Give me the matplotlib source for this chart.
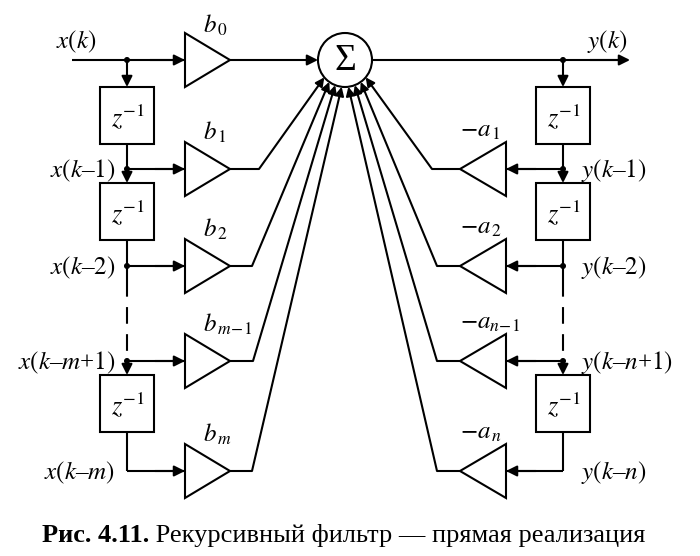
import math
import matplotlib
matplotlib.use("Agg")
import matplotlib.pyplot as plt
from matplotlib.patches import Polygon, Rectangle, Circle

plt.rcParams['font.family'] = ['Liberation Serif', 'DejaVu Serif']
plt.rcParams['mathtext.fontset'] = 'stix'

# labels of the diagram
in_labels = [r'$x(k$–$1)$', r'$x(k$–$2)$', r'$x(k$–$m$+$1)$', r'$x(k$–$m)$']
out_labels = [r'$y(k$–$1)$', r'$y(k$–$2)$', r'$y(k$–$n$+$1)$', r'$y(k$–$n)$']
b_labels = [r'$b_{\,1}$', r'$b_{\,2}$', r'$b_{\,m\!-\!1}$', r'$b_{\,m}$']
a_labels = [r'$-a_{\,1}$', r'$-a_{\,2}$', r'$-a_{n\!-\!1}$', r'$-a_{\,n}$']
caption_bold = 'Рис. 4.11.'
caption_text = ' Рекурсивный фильтр — прямая реализация'

# layout (pixels, y downwards)
Y0 = 60
rows = [169, 266, 361, 471]
box_tops = [87, 183, 375]
XL, XR = 127, 563
CX, CY, R = 345, 60, 27
bend_left = [259, 252, 253, 252]
bend_right = [432, 437, 437, 437]
LW = 1.5
FS = 18

fig = plt.figure(figsize=(7, 5.56), dpi=100)
ax = fig.add_axes([0, 0, 1, 1])
ax.set_xlim(0, 700)
ax.set_ylim(556, 0)
ax.axis('off')


def line(xs, ys, **kw):
    ax.plot(xs, ys, color='k', lw=LW, solid_capstyle='butt', **kw)


def arrow(p0, p1, ms=16):
    ax.annotate('', xy=p1, xytext=p0,
                arrowprops=dict(arrowstyle='-|>', color='k', lw=LW,
                                shrinkA=0, shrinkB=0, mutation_scale=ms))


def dot(x, y):
    ax.add_patch(Circle((x, y), 2.3, color='k', zorder=5))


def tri_right(x, y):
    ax.add_patch(Polygon([(x, y - 27), (x, y + 27), (x + 45, y)], closed=True,
                         fill=False, lw=LW, ec='k'))


def tri_left(x, y):
    ax.add_patch(Polygon([(x, y - 27), (x, y + 27), (x - 46, y)], closed=True,
                         fill=False, lw=LW, ec='k'))


def delay(xc, top):
    ax.add_patch(Rectangle((xc - 27, top), 54, 57, fill=False, lw=LW, ec='k'))
    ax.text(xc + 1, top + 30, r'$z^{-1}$', fontsize=19, ha='center', va='center')


# summation node
ax.add_patch(Circle((CX, CY), R, fill=False, lw=LW, ec='k', zorder=4))
ax.text(CX, CY + 1, 'Σ', fontsize=27, ha='center', va='center')

# input line, b0
line([72, 185], [Y0, Y0])
arrow((150, Y0), (185, Y0))
tri_right(185, Y0)
ax.text(203, Y0 - 27, r'$b_{\,0}$', fontsize=FS, va='baseline')
arrow((230, Y0), (CX - R, Y0))
ax.text(76, Y0 - 12, r'$x(k)$', fontsize=FS, ha='center', va='baseline')

# output line
line([CX + R, 628], [Y0, Y0])
arrow((590, Y0), (630, Y0))
ax.text(607, Y0 - 12, r'$y(k)$', fontsize=FS, ha='center', va='baseline')

# delay chains
for xc, tri, x_in, sign in [(XL, tri_right, 185, 1), (XR, tri_left, 506, -1)]:
    dot(xc, Y0)
    arrow((xc, Y0), (xc, box_tops[0]))
    delay(xc, box_tops[0])
    line([xc, xc], [box_tops[0] + 57, rows[0]])
    arrow((xc, rows[0]), (xc, box_tops[1]))
    dot(xc, rows[0])
    delay(xc, box_tops[1])
    line([xc, xc], [box_tops[1] + 57, 280])
    ax.plot([xc, xc], [280, rows[2]], color='k', lw=LW, dashes=(8, 5))
    dot(xc, rows[1])
    dot(xc, rows[2])
    arrow((xc, rows[2]), (xc, box_tops[2]))
    delay(xc, box_tops[2])
    line([xc, xc], [box_tops[2] + 57, rows[3]])
    for y in rows:
        line([xc, x_in], [y, y])
        arrow((x_in - sign * 30, y), (x_in, y))
        tri(x_in, y)

# left taps to the adder
for i, y in enumerate(rows):
    ang = 220 + i * 100 / 7.0
    ax.text(115, y + 8, in_labels[i], fontsize=FS, ha='right', va='baseline')
    ax.text(203, y - 29, b_labels[i], fontsize=FS, va='baseline')
    line([230, bend_left[i]], [y, y])
    tx = CX + R * math.cos(math.radians(ang))
    ty = CY - R * math.sin(math.radians(ang))
    arrow((bend_left[i], y), (tx, ty), ms=13)

# right taps to the adder
for i, y in enumerate(rows):
    ang = 320 - i * 100 / 7.0
    ax.text(581, y + 8, out_labels[i], fontsize=FS, ha='left', va='baseline')
    ax.text(460, y - 32, a_labels[i], fontsize=FS, va='baseline')
    line([460, bend_right[i]], [y, y])
    tx = CX + R * math.cos(math.radians(ang))
    ty = CY - R * math.sin(math.radians(ang))
    arrow((bend_right[i], y), (tx, ty), ms=13)

# caption
t1 = ax.text(42, 542, caption_bold, fontsize=19, fontweight='bold', va='baseline')
ax.annotate(caption_text, xy=(1, 0), xycoords=t1, va='bottom', ha='left',
            fontsize=19)

fig.savefig('out.png', dpi=100)
